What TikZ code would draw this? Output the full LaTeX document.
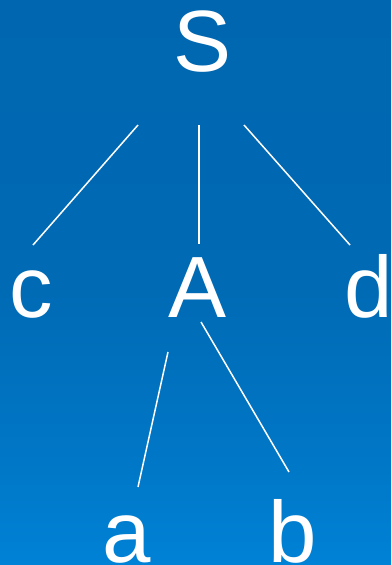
\documentclass[tikz,border=0pt]{standalone}
\usepackage{fontspec}
\setmainfont{Liberation Sans}
\definecolor{bgA}{HTML}{0082D6}
\definecolor{bgB}{HTML}{0078C8}
\definecolor{bgC}{HTML}{0072BF}
\definecolor{bgD}{HTML}{006AB4}
\definecolor{bgE}{HTML}{0068B2}
\definecolor{bgF}{HTML}{0066B0}
\pgfdeclareverticalshading{bgshade}{100bp}{color(0bp)=(bgA); color(25bp)=(bgA); color(33.4bp)=(bgB); color(40.5bp)=(bgC); color(50bp)=(bgD); color(61.7bp)=(bgE); color(75bp)=(bgF); color(100bp)=(bgF)}
\begin{document}
\begin{tikzpicture}[x=1pt,y=-1pt,
  lbl/.style={text=white,font=\fontsize{87}{87}\selectfont,inner sep=0pt,anchor=base},
  edge/.style={draw=white,line width=1.5pt}]
\useasboundingbox (0,0) rectangle (391,565);
\shade[shading=bgshade] (0,0) rectangle (391,565);
\node[lbl] (S) at (203,71) {S};
\node[lbl] (c) at (31,317) {c};
\node[lbl] (A) at (198,317) {A};
\node[lbl] (d) at (369,317) {d};
\node[lbl] (a) at (127,562) {a};
\node[lbl] (b) at (293,562) {b};
\coordinate (Sc) at (138,125);
\coordinate (cS) at (33,245);
\coordinate (SA) at (199,125);
\coordinate (AS) at (199,244);
\coordinate (Sd) at (244,125);
\coordinate (dS) at (350,245);
\coordinate (Aa) at (168,352);
\coordinate (aA) at (138,487);
\coordinate (Ab) at (201,322);
\coordinate (bA) at (289,472);
\draw[edge] (Sc) -- (cS);
\draw[edge] (SA) -- (AS);
\draw[edge] (Sd) -- (dS);
\draw[edge] (Aa) -- (aA);
\draw[edge] (Ab) -- (bA);
\end{tikzpicture}
\end{document}
